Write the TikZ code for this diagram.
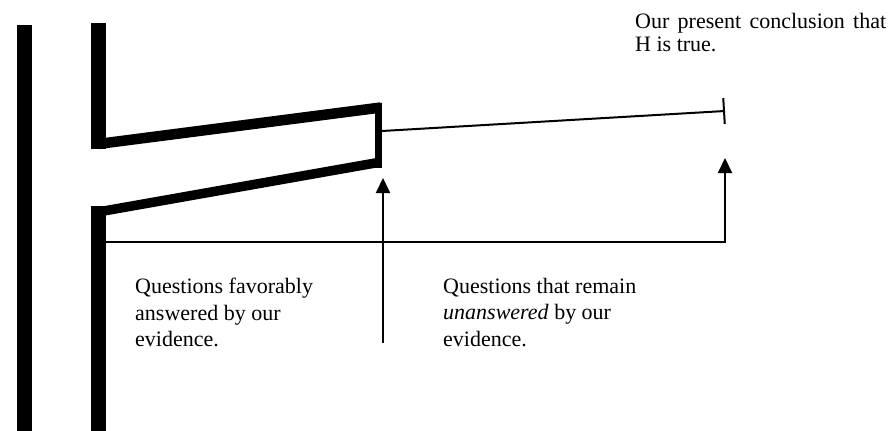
\documentclass[tikz,border=0pt]{standalone}
\usepackage{fontspec}
\setmainfont{Liberation Serif}
\usetikzlibrary{positioning,arrows.meta}

\begin{document}
\begin{tikzpicture}[
  x=1pt,y=-1pt,
  bar/.style={line width=15pt},
  beam/.style={line width=10.5pt},
  thin/.style={line width=2pt},
  uparrow/.style={thin,-{Triangle[length=15pt,width=14pt]}},
  stopline/.style={thin,-{Bar[width=26pt,line width=2pt]}},
  note/.style={inner sep=0pt,align=left,anchor=north west,font=\fontsize{22}{26.5}\selectfont}
]
\useasboundingbox (0,0) rectangle (889,431);

% the two walls
\coordinate (walltop) at (24.5,25);
\coordinate (wallbot) at (24.5,431);
\coordinate (stemtop) at (98.5,23);
\coordinate (stemjoin) at (98.5,149);
\coordinate (stemfoot) at (98.5,206);
\coordinate (stembot) at (98.5,431);
\draw[bar] (walltop) -- (wallbot);
\draw[bar] (stemtop) -- (stemjoin);
\draw[bar] (stemfoot) -- (stembot);

% the beam of answered questions
\coordinate (beamul) at (98,144);
\coordinate (beamur) at (381,107.5);
\coordinate (beamll) at (98,212);
\coordinate (beamlr) at (381,162);
\coordinate (capt) at (378.5,102.5);
\coordinate (capb) at (378.5,167.5);
\draw[beam] (beamul) -- (beamur);
\draw[line width=9.5pt] (beamlr) -- (beamll);
\draw[line width=7pt] (capt) -- (capb);

% reach of the conclusion
\coordinate (reach) at (382,131);
\coordinate (goal) at (725,111);
\draw[stopline] (reach) -- (goal);

% what the evidence covers
\coordinate (floor) at (98,242);
\coordinate (goaltip) at (725,158);
\draw[uparrow] (floor) -| (goaltip);

\coordinate (gapfoot) at (383,343);
\coordinate (gaptip) at (383,178);
\draw[uparrow] (gapfoot) -- (gaptip);

% labels
\node[note] (favored) at (135,278) {Questions favorably\\answered by our\\evidence.};
\node[note] (open) at (443,278) {Questions that remain\\\textit{unanswered} by our\\evidence.};
\node[note,font=\fontsize{22}{23.5}\selectfont] (claim) at (635,13) {\makebox[251pt][s]{Our present conclusion that}\\H is true.};

\end{tikzpicture}
\end{document}
